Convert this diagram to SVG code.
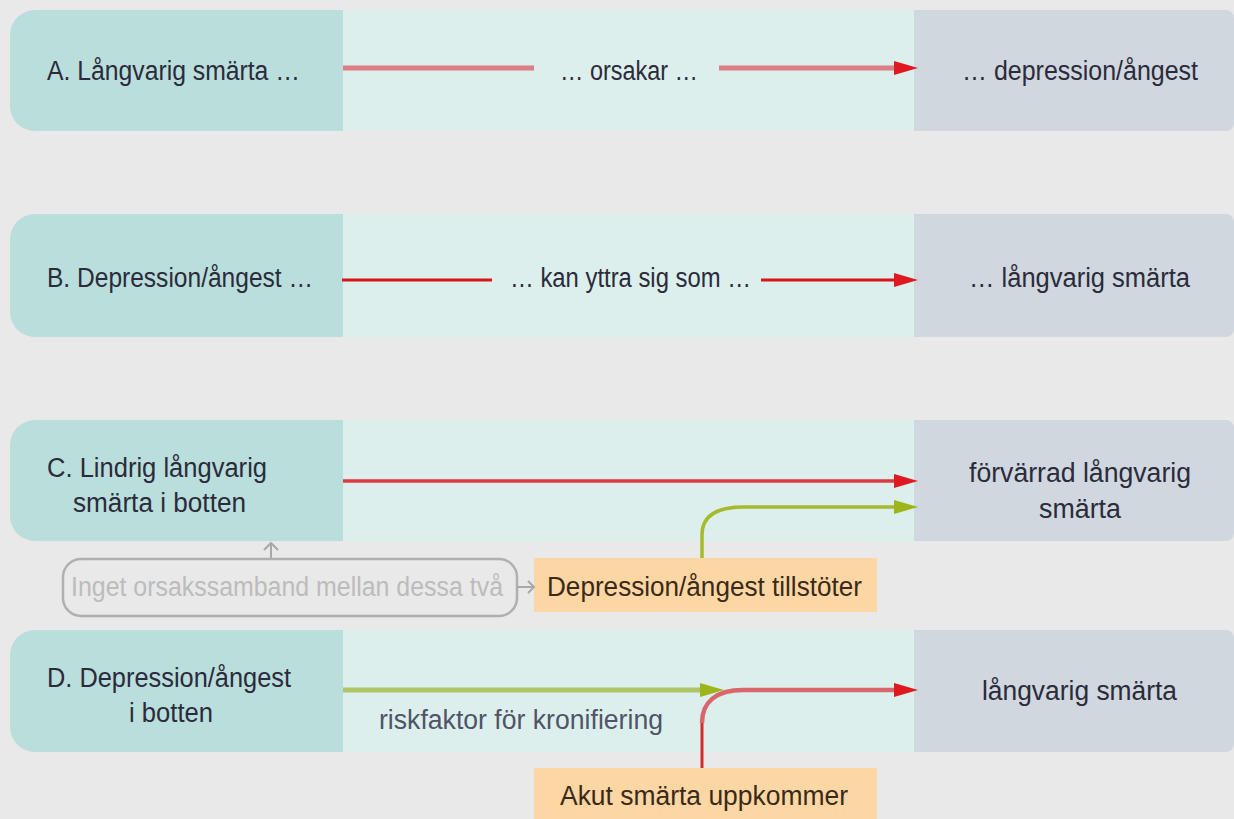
<svg xmlns="http://www.w3.org/2000/svg" width="1234" height="819" viewBox="0 0 1234 819">
<defs>
<style>
.bg{fill:#e9e9e9}
.lb{fill:#badedb}
.mid{fill:#ddefec}
.rb{fill:#d0d7de}
.ob{fill:#fdd7a3}
text{font-family:"Liberation Sans",Arial,sans-serif;font-size:27px;fill:#2b2b3b}
.gt{fill:#bcbcbc}
.rk{fill:#4f5468}
.ot{fill:#3a2a1a}
</style>
<marker id="hr" markerUnits="userSpaceOnUse" markerWidth="24" markerHeight="16" refX="0" refY="8" orient="auto"><path d="M0,1 L24,8 L0,15 Z" fill="#dd1a1f"/></marker>
<marker id="hg" markerUnits="userSpaceOnUse" markerWidth="24" markerHeight="16" refX="0" refY="8" orient="auto"><path d="M0,1 L24,8 L0,15 Z" fill="#9db51a"/></marker>
</defs>
<rect class="bg" x="0" y="0" width="1234" height="819"/>

<g id="rowA">
<rect class="mid" x="343" y="10" width="571" height="121"/>
<path class="lb" d="M343,10 H35 A25,25 0 0 0 10,35 V106 A25,25 0 0 0 35,131 H343 Z"/>
<path class="rb" d="M914,10 H1226 A8,8 0 0 1 1234,18 V123 A8,8 0 0 1 1226,131 H914 Z"/>
<text x="47" y="80" textLength="253" lengthAdjust="spacingAndGlyphs">A. Långvarig smärta …</text>
<text x="560" y="80" textLength="138" lengthAdjust="spacingAndGlyphs">… orsakar …</text>
<text x="962" y="80" textLength="236" lengthAdjust="spacingAndGlyphs">… depression/ångest</text>
</g>

<g id="rowB">
<rect class="mid" x="343" y="214" width="571" height="123"/>
<path class="lb" d="M343,214 H35 A25,25 0 0 0 10,239 V312 A25,25 0 0 0 35,337 H343 Z"/>
<path class="rb" d="M914,214 H1226 A8,8 0 0 1 1234,222 V329 A8,8 0 0 1 1226,337 H914 Z"/>
<text x="47" y="287" textLength="266" lengthAdjust="spacingAndGlyphs">B. Depression/ångest …</text>
<text x="510" y="287" textLength="241" lengthAdjust="spacingAndGlyphs">… kan yttra sig som …</text>
<text x="969" y="287" textLength="221" lengthAdjust="spacingAndGlyphs">… långvarig smärta</text>
</g>

<g id="rowC">
<rect class="mid" x="343" y="420" width="571" height="121"/>
<path class="lb" d="M343,420 H35 A25,25 0 0 0 10,445 V516 A25,25 0 0 0 35,541 H343 Z"/>
<path class="rb" d="M914,420 H1226 A8,8 0 0 1 1234,428 V533 A8,8 0 0 1 1226,541 H914 Z"/>
<text x="47" y="477" textLength="220" lengthAdjust="spacingAndGlyphs">C. Lindrig långvarig</text>
<text x="73" y="512" textLength="173" lengthAdjust="spacingAndGlyphs">smärta i botten</text>
<text x="969" y="482" textLength="222" lengthAdjust="spacingAndGlyphs">förvärrad långvarig</text>
<text x="1039" y="518" textLength="82" lengthAdjust="spacingAndGlyphs">smärta</text>
</g>

<g id="noCausal">
<rect x="63" y="559" width="454" height="57" rx="18" fill="none" stroke="#b0b0b0" stroke-width="2.5"/>
<text class="gt" x="71" y="596" textLength="432" lengthAdjust="spacingAndGlyphs">Inget orsakssamband mellan dessa två</text>
</g>

<g id="depTillstoter">
<rect class="ob" x="534" y="558" width="343" height="54"/>
<text class="ot" x="547" y="596" textLength="315" lengthAdjust="spacingAndGlyphs">Depression/ångest tillstöter</text>
</g>

<g id="rowD">
<rect class="mid" x="343" y="630" width="571" height="122"/>
<path class="lb" d="M343,630 H35 A25,25 0 0 0 10,655 V727 A25,25 0 0 0 35,752 H343 Z"/>
<path class="rb" d="M914,630 H1226 A8,8 0 0 1 1234,638 V744 A8,8 0 0 1 1226,752 H914 Z"/>
<text x="47" y="687" textLength="244" lengthAdjust="spacingAndGlyphs">D. Depression/ångest</text>
<text x="129" y="722" textLength="84" lengthAdjust="spacingAndGlyphs">i botten</text>
<text x="982" y="700" textLength="195" lengthAdjust="spacingAndGlyphs">långvarig smärta</text>
<text class="rk" x="379" y="729" textLength="284" lengthAdjust="spacingAndGlyphs">riskfaktor för kronifiering</text>
</g>

<g id="akutSmarta">
<rect class="ob" x="534" y="768" width="343" height="51"/>
<text class="ot" x="560" y="805" textLength="288" lengthAdjust="spacingAndGlyphs">Akut smärta uppkommer</text>
</g>

<g id="connectors" fill="none">
<line x1="343" y1="68" x2="534" y2="68" stroke="#dc7e82" stroke-width="5"/>
<line x1="719" y1="68" x2="894" y2="68" stroke="#dc7e82" stroke-width="5" marker-end="url(#hr)"/>
<line x1="342" y1="280" x2="492" y2="280" stroke="#d81418" stroke-width="3"/>
<line x1="761" y1="280" x2="894" y2="280" stroke="#d81418" stroke-width="3" marker-end="url(#hr)"/>
<line x1="343" y1="481" x2="894" y2="481" stroke="#dc3a3f" stroke-width="3.5" marker-end="url(#hr)"/>
<path d="M702,558 V535 C702,515 718,507 743,507 H894" stroke="#a5bb2c" stroke-width="3.5" marker-end="url(#hg)"/>
<path d="M271,558 V543 M264,550 L271,543 L278,550" stroke="#a8a8a8" stroke-width="2"/>
<path d="M518,587 H534 M528,581 L534,587 L528,593" stroke="#a8a8a8" stroke-width="2"/>
<line x1="343" y1="690" x2="700" y2="690" stroke="#b0c466" stroke-width="5" marker-end="url(#hg)"/>
<path d="M702,768 V722" stroke="#d42a2e" stroke-width="3"/>
<path d="M702,723 C702,702 716,690 743,690 H894" stroke="#d9666b" stroke-width="4.5" marker-end="url(#hr)"/>
</g>
</svg>
